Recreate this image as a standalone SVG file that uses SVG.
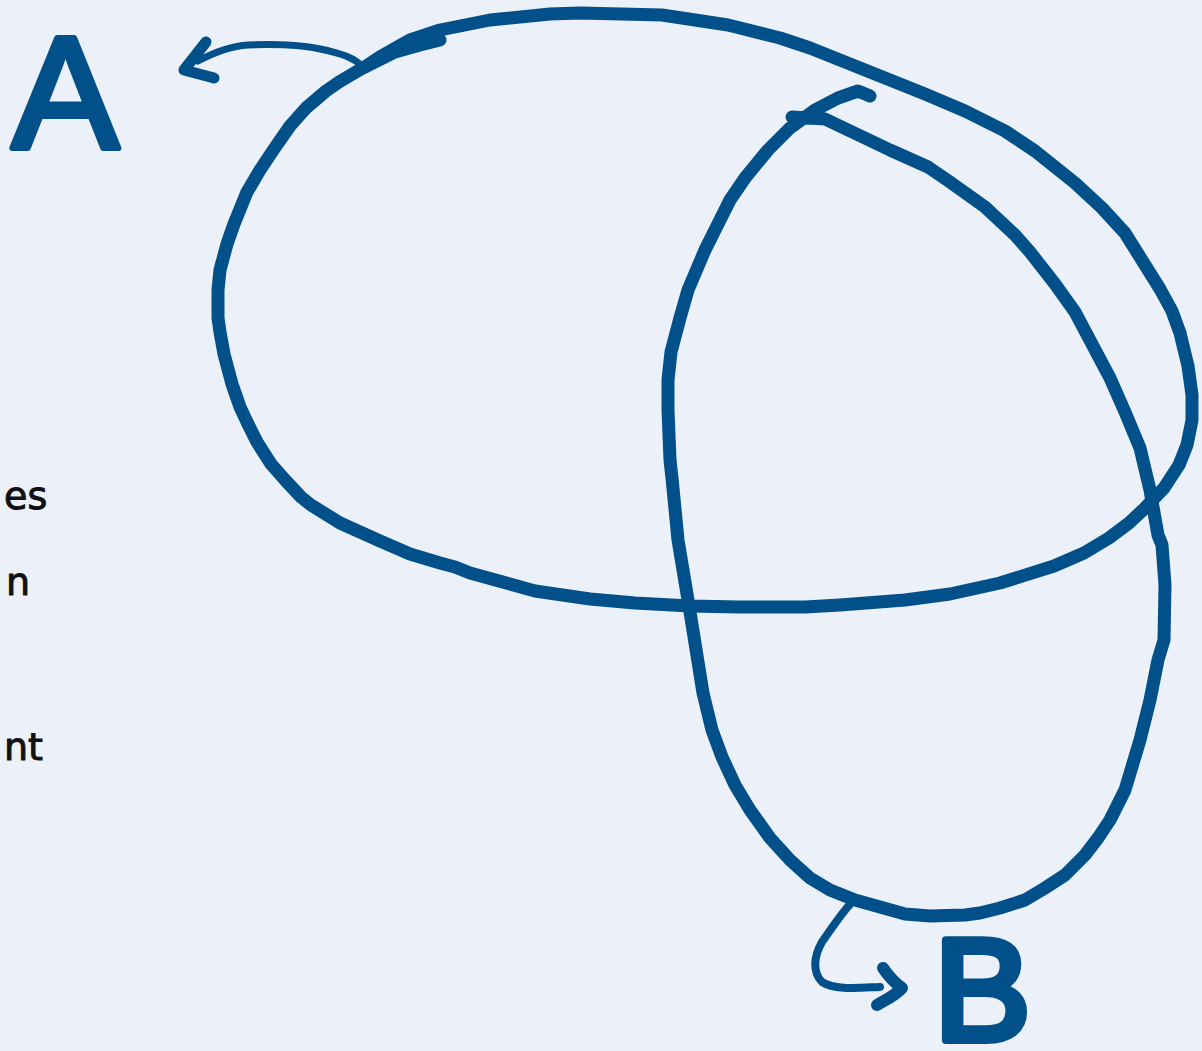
<svg xmlns="http://www.w3.org/2000/svg" width="1202" height="1051" viewBox="0 0 1202 1051">
<style>
.ln{fill:none;stroke:#02508a;stroke-linecap:round;stroke-linejoin:round}
.big{font-family:"Liberation Sans","DejaVu Sans",sans-serif;fill:#02508a;stroke:#02508a;stroke-linejoin:round}
.side{font-family:"DejaVu Sans",sans-serif;fill:#111;stroke:#111;stroke-width:1;font-size:38px}
</style>
<rect width="1202" height="1051" fill="#ecf1f9"/>
<g id="side-text">
<text class="side" x="4" y="509">es</text>
<text class="side" x="6" y="595">n</text>
<text class="side" x="4" y="760">nt</text>
</g>
<g id="node-A"><text class="big" x="12" y="148" font-size="160" stroke-width="6">A</text></g>
<g id="node-B"><text class="big" x="934" y="1040" font-size="145" stroke-width="8">B</text></g>
<g id="loop-1">
<path class="ln" stroke-width="13" d="M365,67 L380,57 L410,40 L440,30 L490,20 L550,14 L580,13 L662,15 L728,25 L780,38 L810,48 L870,72 L925,94 L965,111 L1005,131 L1035,151 L1075,183 L1102,208 L1125,233 L1160,289 L1172,311 L1180,333 L1188,366 L1192,395 L1192,420 L1187,445 L1179,465 L1164,488 L1144,509 L1129,523 L1109,538 L1084,553 L1054,566 L1000,583 L950,594 L905,600 L840,605 L805,607 L740,607 L690,606 L635,603 L590,599 L535,591 L470,573 L455,567 L440,563 L410,554 L380,541 L340,523 L311,505 L301,497 L286,481 L271,464 L257,442 L247,422 L240,407 L232,384 L224,354 L220,332 L218,318 L218,290 L220,270 L227,244 L234,224 L247,192 L260,170 L274,149 L290,126 L306,108 L326,91 L339,82 L361,69 L395,52 L420,45 L440,40"/>
</g>
<g id="loop-2">
<path class="ln" stroke-width="13" d="M792,117 L825,119 L890,150 L928,167 L950,182 L985,207 L1015,235 L1030,252 L1055,284 L1075,312 L1110,378 L1125,412 L1140,448 L1150,490 L1158,535 L1162,545 L1165,585 L1164,640 L1158,660 L1150,700 L1140,740 L1125,790 L1110,820 L1098,838 L1085,855 L1065,875 L1045,888 L1025,900 L1000,908 L980,913 L965,915 L930,916 L905,914 L880,907 L855,900 L830,890 L810,878 L790,860 L770,838 L750,810 L735,785 L722,757 L712,730 L703,693 L690,612 L683,570 L678,540 L672,478 L670,460 L668,410 L668,380 L671,352 L680,318 L688,290 L705,250 L718,224 L730,200 L745,178 L768,150 L790,128 L815,110 L838,98 L858,91 L870,96"/>
</g>
<g id="connectors">
<path class="ln" stroke-width="7" d="M362,66 C352,56 340,54 325,50 C300,44 275,44 248,45 C230,46 215,52 198,61"/>
<path class="ln" stroke-width="11" d="M206,42 L184,70 L214,78"/>
<path class="ln" stroke-width="8" d="M852,902 C840,915 832,928 822,942 C814,956 812,972 822,982 C835,990 855,988 880,987"/>
<path class="ln" stroke-width="12" d="M883,968 C890,978 896,984 902,988 C895,996 885,1000 877,1005"/>
</g>
</svg>
